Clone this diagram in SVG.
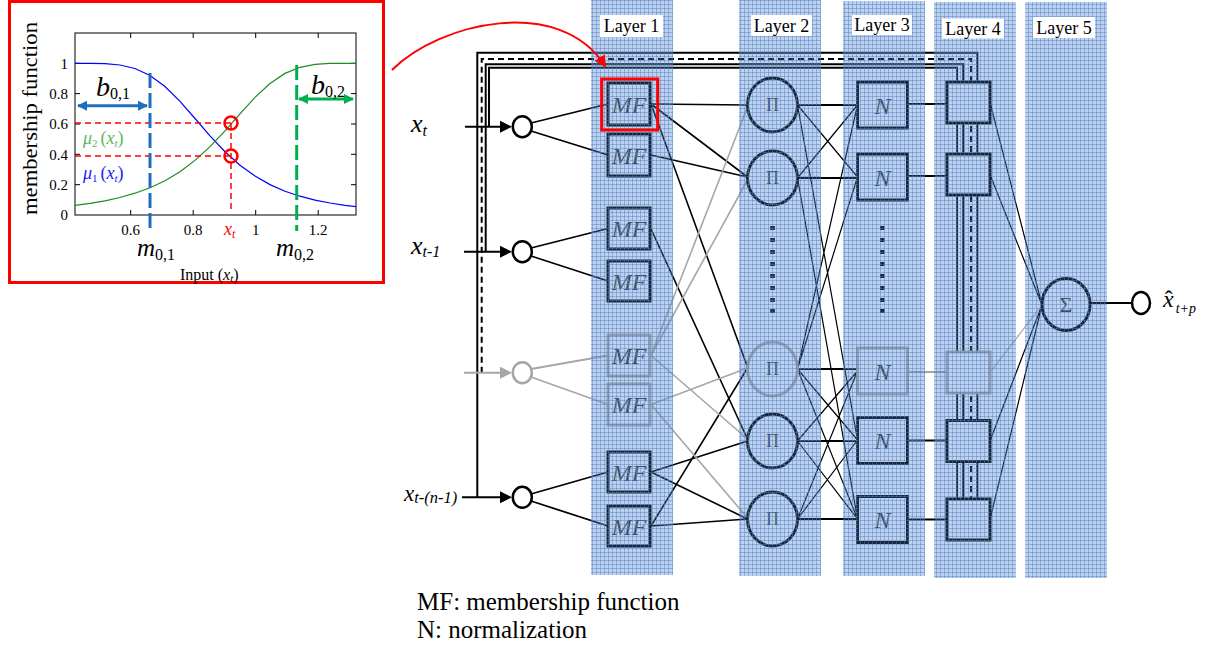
<svg xmlns="http://www.w3.org/2000/svg" width="1205" height="648" viewBox="0 0 1205 648">
<defs>
<style>
.serif{font-family:"Liberation Serif","Times New Roman",serif}
.it{font-style:italic}
.bk{stroke:#000;fill:none}
.gy{stroke:#a6a6a6;fill:none}
.fb{stroke-width:2}
.in{stroke-width:1.8}
.l1{stroke-width:1.6}
.l2{stroke-width:1.2}
.hz{stroke-width:2.2}
.nd{fill:#e3eeff;stroke:#000;stroke-width:3}
.ndg{fill:#e3eeff;stroke:#a6a6a6;stroke-width:3}
.ic{fill:#fff;stroke:#000;stroke-width:2.5}
.icg{fill:#fff;stroke:#a6a6a6;stroke-width:2.5}
.colbase{fill:#e3eeff}
.colover{fill:url(#grid)}
.ntxt{fill:#333}
.dot{fill:#000}
.tick{stroke:#000;stroke-width:1}
</style>
<pattern id="grid" width="4" height="4" patternUnits="userSpaceOnUse">
<rect width="4" height="4" fill="#5a88c4" fill-opacity="0.28"/>
<path d="M0 0.5H4M0.5 0V4" stroke="#4d7fc2" stroke-opacity="0.45" stroke-width="1"/>
</pattern>
<marker id="ah" viewBox="0 0 12 12" refX="0" refY="6" markerWidth="12" markerHeight="12" markerUnits="userSpaceOnUse" orient="auto"><path d="M0 0L12 6L0 12z" fill="#000"/></marker>
<marker id="ahg" viewBox="0 0 12 12" refX="0" refY="6" markerWidth="12" markerHeight="12" markerUnits="userSpaceOnUse" orient="auto"><path d="M0 0L12 6L0 12z" fill="#a6a6a6"/></marker>
<marker id="ahr" viewBox="0 0 12 12" refX="10" refY="6" markerWidth="12" markerHeight="12" markerUnits="userSpaceOnUse" orient="auto"><path d="M0 0L12 6L0 12z" fill="#f00"/></marker>
<marker id="ahb" viewBox="0 0 10 10" refX="9" refY="5" markerWidth="10" markerHeight="10" markerUnits="userSpaceOnUse" orient="auto-start-reverse"><path d="M0 0L10 5L0 10z" fill="#1f6fc0"/></marker>
<marker id="ahgr" viewBox="0 0 10 10" refX="9" refY="5" markerWidth="10" markerHeight="10" markerUnits="userSpaceOnUse" orient="auto-start-reverse"><path d="M0 0L10 5L0 10z" fill="#00b050"/></marker>
</defs>
<rect width="1205" height="648" fill="#fff"/>

<!-- Inset plot -->
<g id="inset" font-family="Liberation Serif, Times New Roman, serif">
<rect x="9.5" y="1.5" width="374" height="281" fill="#fff" stroke="#f00" stroke-width="3"/>
<rect x="75" y="33" width="281" height="182" fill="none" stroke="#000" stroke-width="1"/>
<path class="tick" d="M75 63.3h5M75 93.6h5M75 124h5M75 154.3h5M75 184.7h5M356 63.3h-5M356 93.6h-5M356 124h-5M356 154.3h-5M356 184.7h-5M130.7 215v-5M193.2 215v-5M255.7 215v-5M318.2 215v-5M130.7 33v5M193.2 33v5M255.7 33v5M318.2 33v5"/>
<g font-size="15" text-anchor="end">
<text x="68" y="68.5">1</text>
<text x="68" y="98.8">0.8</text>
<text x="68" y="129">0.6</text>
<text x="68" y="159.5">0.4</text>
<text x="68" y="190">0.2</text>
<text x="68" y="220">0</text>
</g>
<g font-size="15" text-anchor="middle">
<text x="130.7" y="235">0.6</text>
<text x="193.2" y="235">0.8</text>
<text x="255.7" y="235">1</text>
<text x="318.2" y="235">1.2</text>
</g>
<text font-size="20" text-anchor="middle" transform="translate(37 118.5) rotate(-90)" textLength="193" lengthAdjust="spacingAndGlyphs">membership function</text>
<polyline fill="none" stroke="#0000ff" stroke-width="1.2" points="75,63.3 90,63.3 105,63.6 120,65.0 135,68.5 150,75.5 165,86.5 180,101.4 195,118.5 210,135.8 225,151.7 240,165.2 255,176.0 270,184.6 285,191.2 300,196.2 315,200.1 330,203.0 345,205.3 356,206.7"/>
<polyline fill="none" stroke="#1e8c1e" stroke-width="1.2" points="75,205.4 90,203.4 105,200.8 120,197.5 135,193.2 150,187.7 165,180.7 180,171.7 195,160.4 210,146.6 225,130.8 240,113.8 255,97.4 270,83.5 285,73.4 300,67.3 315,64.4 330,63.4 345,63.3 356,63.3"/>
<path d="M75 123H231M75 156H231M231 123V213" fill="none" stroke="#f00" stroke-width="1.5" stroke-dasharray="6 4"/>
<circle cx="231" cy="123" r="6.5" fill="none" stroke="#f00" stroke-width="2.5"/>
<circle cx="231" cy="156" r="6.5" fill="none" stroke="#f00" stroke-width="2.5"/>
<line x1="150" y1="73" x2="150" y2="231" stroke="#1f6fc0" stroke-width="3" stroke-dasharray="15 5"/>
<line x1="296.7" y1="65" x2="296.7" y2="231" stroke="#00b050" stroke-width="3" stroke-dasharray="15 5"/>
<line x1="78" y1="105.7" x2="147" y2="105.7" stroke="#1f6fc0" stroke-width="3" marker-start="url(#ahb)" marker-end="url(#ahb)"/>
<line x1="299" y1="99" x2="353" y2="99" stroke="#00b050" stroke-width="3" marker-start="url(#ahgr)" marker-end="url(#ahgr)"/>
<text font-style="italic" x="96" y="96" font-size="28">b<tspan font-size="16" font-style="normal" dy="3">0,1</tspan></text>
<text font-style="italic" x="311" y="93.5" font-size="28">b<tspan font-size="16" font-style="normal" dy="3">0,2</tspan></text>
<text x="83" y="143.5" font-size="18" fill="#5cb85c"><tspan font-style="italic">μ</tspan><tspan font-size="11" dy="3">2</tspan><tspan dx="3" dy="-3">(</tspan><tspan font-style="italic">x</tspan><tspan font-size="11" font-style="italic" dy="3">t</tspan><tspan dy="-3">)</tspan></text>
<text x="83" y="178.5" font-size="18" fill="#2020ff"><tspan font-style="italic">μ</tspan><tspan font-size="11" dy="3">1</tspan><tspan dx="3" dy="-3">(</tspan><tspan font-style="italic">x</tspan><tspan font-size="11" font-style="italic" dy="3">t</tspan><tspan dy="-3">)</tspan></text>
<text font-style="italic" x="224" y="235" font-size="18" fill="#f00">x<tspan font-size="12" dy="3">t</tspan></text>
<text font-style="italic" x="137" y="256" font-size="25">m<tspan font-size="16" font-style="normal" dy="4">0,1</tspan></text>
<text font-style="italic" x="276" y="256" font-size="25">m<tspan font-size="16" font-style="normal" dy="4">0,2</tspan></text>
<text x="180" y="280" font-size="16">Input (<tspan font-style="italic">x</tspan><tspan font-size="11" font-style="italic" dy="2">t</tspan><tspan dy="-2">)</tspan></text>
</g>

<!-- Layer columns (base) -->
<g id="columns">
<rect class="colbase" x="591" y="0" width="82" height="575"/>
<rect class="colbase" x="739" y="0" width="82" height="576"/>
<rect class="colbase" x="843" y="1" width="82" height="575"/>
<rect class="colbase" x="934" y="2" width="82" height="576"/>
<rect class="colbase" x="1025" y="2" width="82" height="576"/>
</g>

<g id="connectors">
<path class="bk fb" d="M477.3 497.3V52.7H977.3V499"/>
<path class="bk fb" stroke-dasharray="6 4" d="M481.7 372.7V59H971V499"/>
<path class="bk fb" d="M485.7 251.7V64.3H963.3V499"/>
<path class="bk fb" d="M489 126.7V67.7H957V499"/>
<line class="bk fb" x1="465" y1="126.7" x2="500" y2="126.7" marker-end="url(#ah)"/>
<line class="bk fb" x1="464" y1="251.7" x2="500" y2="251.7" marker-end="url(#ah)"/>
<line class="gy fb" x1="464" y1="372.7" x2="500" y2="372.7" marker-end="url(#ahg)"/>
<line class="bk fb" x1="462" y1="497.3" x2="500" y2="497.3" marker-end="url(#ah)"/>
<path class="bk in" d="M531 123L608 104M531 131L608 155M531 248L608 228.5M531 256L608 281M531 494L608 472M531 501L608 526"/>
<path class="gy in" d="M531 369L608 355.5M531 377L608 404.5"/>
<path class="bk l1" d="M651 104L747.5 105M651 104L747.5 177M651 104L747.5 367M651 155L747.5 177M651 229L747.5 439M651 472L747.5 441M651 472L747.5 519M651 526L747.5 519M651 526L747.5 368"/>
<path class="gy l1" d="M651 355.5L747.5 107M651 355.5L747.5 180M651 355.5L747.5 439M651 404.5L747.5 368M651 404.5L747.5 518"/>
<path class="bk hz" d="M797.5 105H857.5M797.5 178H857.5M797.5 369H857.5M797.5 441H857.5M797.5 519H857.5"/>
<path class="bk l2" d="M797.5 105L857.5 177M797.5 105L857.5 440M797.5 178L857.5 105M797.5 178L857.5 519M797.5 369L857.5 105M797.5 369L857.5 177M797.5 369L857.5 440M797.5 369L857.5 519M797.5 441L857.5 371M797.5 441L857.5 519M797.5 519L857.5 371M797.5 519L857.5 440"/>
<path class="bk hz" d="M907.5 104H947M907.5 176H947M907.5 440.5H947M907.5 519.5H947"/>
<path class="gy hz" d="M907.5 372H947"/>
<path class="bk l2" d="M990 102.5L1042 305M990 174.5L1042 305M990 441L1042 305M990 519.5L1042 305"/>
<path class="gy l2" d="M990 372.5L1042 305"/>
<path class="bk hz" d="M1090 303H1132"/>
</g>

<g id="in-xt"><ellipse class="ic" cx="522.3" cy="126.7" rx="9.5" ry="10.5"/><text font-family="Liberation Serif, Times New Roman, serif" font-style="italic" x="411" y="131.7" font-size="26">x<tspan font-size="16" dy="4.5">t</tspan></text></g>
<g id="in-xt1"><ellipse class="ic" cx="522.3" cy="251.7" rx="9.5" ry="10.5"/><text font-family="Liberation Serif, Times New Roman, serif" font-style="italic" x="411" y="254" font-size="26">x<tspan font-size="16" dy="3">t-1</tspan></text></g>
<g id="in-gray"><ellipse class="icg" cx="522.3" cy="372.7" rx="9.5" ry="10.5"/></g>
<g id="in-xtn"><ellipse class="ic" cx="522.3" cy="497.3" rx="9.5" ry="10.5"/><text font-family="Liberation Serif, Times New Roman, serif" font-style="italic" x="404" y="500.5" font-size="23">x<tspan font-size="16.5" dy="2.5">t-(n-1)</tspan></text></g>

<g font-family="Liberation Serif, Times New Roman, serif" font-style="italic" font-size="24" text-anchor="middle">
<g id="mf1"><rect class="nd" x="608" y="83" width="42" height="42"/><text class="ntxt" x="629" y="112.5">MF</text></g>
<g id="mf2"><rect class="nd" x="608" y="134" width="42" height="42"/><text class="ntxt" x="629" y="163.5">MF</text></g>
<g id="mf3"><rect class="nd" x="608" y="208" width="42" height="41"/><text class="ntxt" x="629" y="237">MF</text></g>
<g id="mf4"><rect class="nd" x="608" y="261" width="42" height="40"/><text class="ntxt" x="629" y="289.5">MF</text></g>
<g id="mf5"><rect class="ndg" x="608" y="335" width="42" height="41"/><text class="ntxt" x="629" y="364">MF</text></g>
<g id="mf6"><rect class="ndg" x="608" y="384" width="42" height="41"/><text class="ntxt" x="629" y="413">MF</text></g>
<g id="mf7"><rect class="nd" x="608" y="452" width="42" height="40"/><text class="ntxt" x="629" y="480.5">MF</text></g>
<g id="mf8"><rect class="nd" x="608" y="506" width="42" height="40"/><text class="ntxt" x="629" y="534.5">MF</text></g>
</g>

<g font-family="Liberation Serif, Times New Roman, serif" font-size="18" text-anchor="middle">
<g id="pi1"><ellipse class="nd" cx="772.5" cy="105" rx="25" ry="27"/><text class="ntxt" x="772.5" y="111">Π</text></g>
<g id="pi2"><ellipse class="nd" cx="772.5" cy="178" rx="25" ry="27"/><text class="ntxt" x="772.5" y="184">Π</text></g>
<g id="pi3"><ellipse class="ndg" cx="772.5" cy="369" rx="25" ry="27"/><text class="ntxt" x="772.5" y="375">Π</text></g>
<g id="pi4"><ellipse class="nd" cx="772.5" cy="441" rx="25" ry="27"/><text class="ntxt" x="772.5" y="447">Π</text></g>
<g id="pi5"><ellipse class="nd" cx="772.5" cy="519" rx="25" ry="27"/><text class="ntxt" x="772.5" y="525">Π</text></g>
</g>

<g id="ellipsis">
<path class="dot" d="M770.3 226h4.5v4h-4.5zM770.3 238h4.5v4h-4.5zM770.3 250h4.5v4h-4.5zM770.3 262h4.5v4h-4.5zM770.3 274h4.5v4h-4.5zM770.3 286h4.5v4h-4.5zM770.3 298h4.5v4h-4.5zM770.3 309h4.5v4h-4.5z"/>
<path class="dot" d="M880 226h4.5v4h-4.5zM880 238h4.5v4h-4.5zM880 250h4.5v4h-4.5zM880 262h4.5v4h-4.5zM880 274h4.5v4h-4.5zM880 286h4.5v4h-4.5zM880 298h4.5v4h-4.5zM880 309h4.5v4h-4.5z"/>
</g>

<g font-family="Liberation Serif, Times New Roman, serif" font-style="italic" font-size="24" text-anchor="middle">
<g id="n1"><rect class="nd" x="857.5" y="82" width="50" height="46"/><text class="ntxt" x="882.5" y="113.5">N</text></g>
<g id="n2"><rect class="nd" x="857.5" y="154" width="50" height="46"/><text class="ntxt" x="882.5" y="185.5">N</text></g>
<g id="n3"><rect class="ndg" x="857.5" y="348" width="50" height="46"/><text class="ntxt" x="882.5" y="379.5">N</text></g>
<g id="n4"><rect class="nd" x="857.5" y="417.5" width="50" height="46"/><text class="ntxt" x="882.5" y="449">N</text></g>
<g id="n5"><rect class="nd" x="857.5" y="496.5" width="50" height="46"/><text class="ntxt" x="882.5" y="528">N</text></g>
</g>

<g id="l4a"><rect class="nd" x="947" y="82" width="43" height="41"/></g>
<g id="l4b"><rect class="nd" x="947" y="154" width="43" height="41"/></g>
<g id="l4c"><rect class="ndg" x="947" y="352" width="43" height="41"/></g>
<g id="l4d"><rect class="nd" x="947" y="420.5" width="43" height="41"/></g>
<g id="l4e"><rect class="nd" x="947" y="499" width="43" height="41"/></g>

<g id="sum"><ellipse class="nd" cx="1066" cy="304.5" rx="24" ry="26"/><text class="ntxt" font-family="Liberation Serif, Times New Roman, serif" x="1066" y="312" font-size="22" text-anchor="middle">Σ</text></g>

<g id="out"><ellipse class="ic" cx="1141" cy="303" rx="9" ry="11"/>
<text font-family="Liberation Serif, Times New Roman, serif" font-style="italic" x="1163" y="307" font-size="24">x<tspan dx="-9" font-style="normal">ˆ</tspan><tspan font-size="14" dx="3" dy="6">t+p</tspan></text></g>

<!-- grid overlay of layer columns -->
<g id="columns-overlay">
<rect class="colover" x="591" y="0" width="82" height="575"/>
<rect class="colover" x="739" y="0" width="82" height="576"/>
<rect class="colover" x="843" y="1" width="82" height="575"/>
<rect class="colover" x="934" y="2" width="82" height="576"/>
<rect class="colover" x="1025" y="2" width="82" height="576"/>
</g>

<g font-family="Liberation Serif, Times New Roman, serif" font-size="18" text-anchor="middle">
<g id="lab1"><rect x="600" y="15" width="63" height="22" fill="#fff"/><text x="631.5" y="32">Layer 1</text></g>
<g id="lab2"><rect x="751" y="15" width="61" height="21" fill="#fff"/><text x="781.5" y="31.5">Layer 2</text></g>
<g id="lab3"><rect x="852" y="15" width="60" height="20" fill="#fff"/><text x="882" y="31">Layer 3</text></g>
<g id="lab4"><rect x="942" y="18.5" width="62" height="20" fill="#fff"/><text x="973" y="34.5">Layer 4</text></g>
<g id="lab5"><rect x="1033" y="17" width="62" height="21" fill="#fff"/><text x="1064" y="33.5">Layer 5</text></g>
</g>

<g id="highlight">
<rect x="601.7" y="79" width="56" height="51" fill="none" stroke="#f00" stroke-width="3"/>
<path d="M392 70C440 22 560 -5 605 66" fill="none" stroke="#f00" stroke-width="2" marker-end="url(#ahr)"/>
</g>

<g id="legend" font-family="Liberation Serif, Times New Roman, serif" font-size="25">
<text x="417" y="610">MF: membership function</text>
<text x="417" y="638">N: normalization</text>
</g>
</svg>
